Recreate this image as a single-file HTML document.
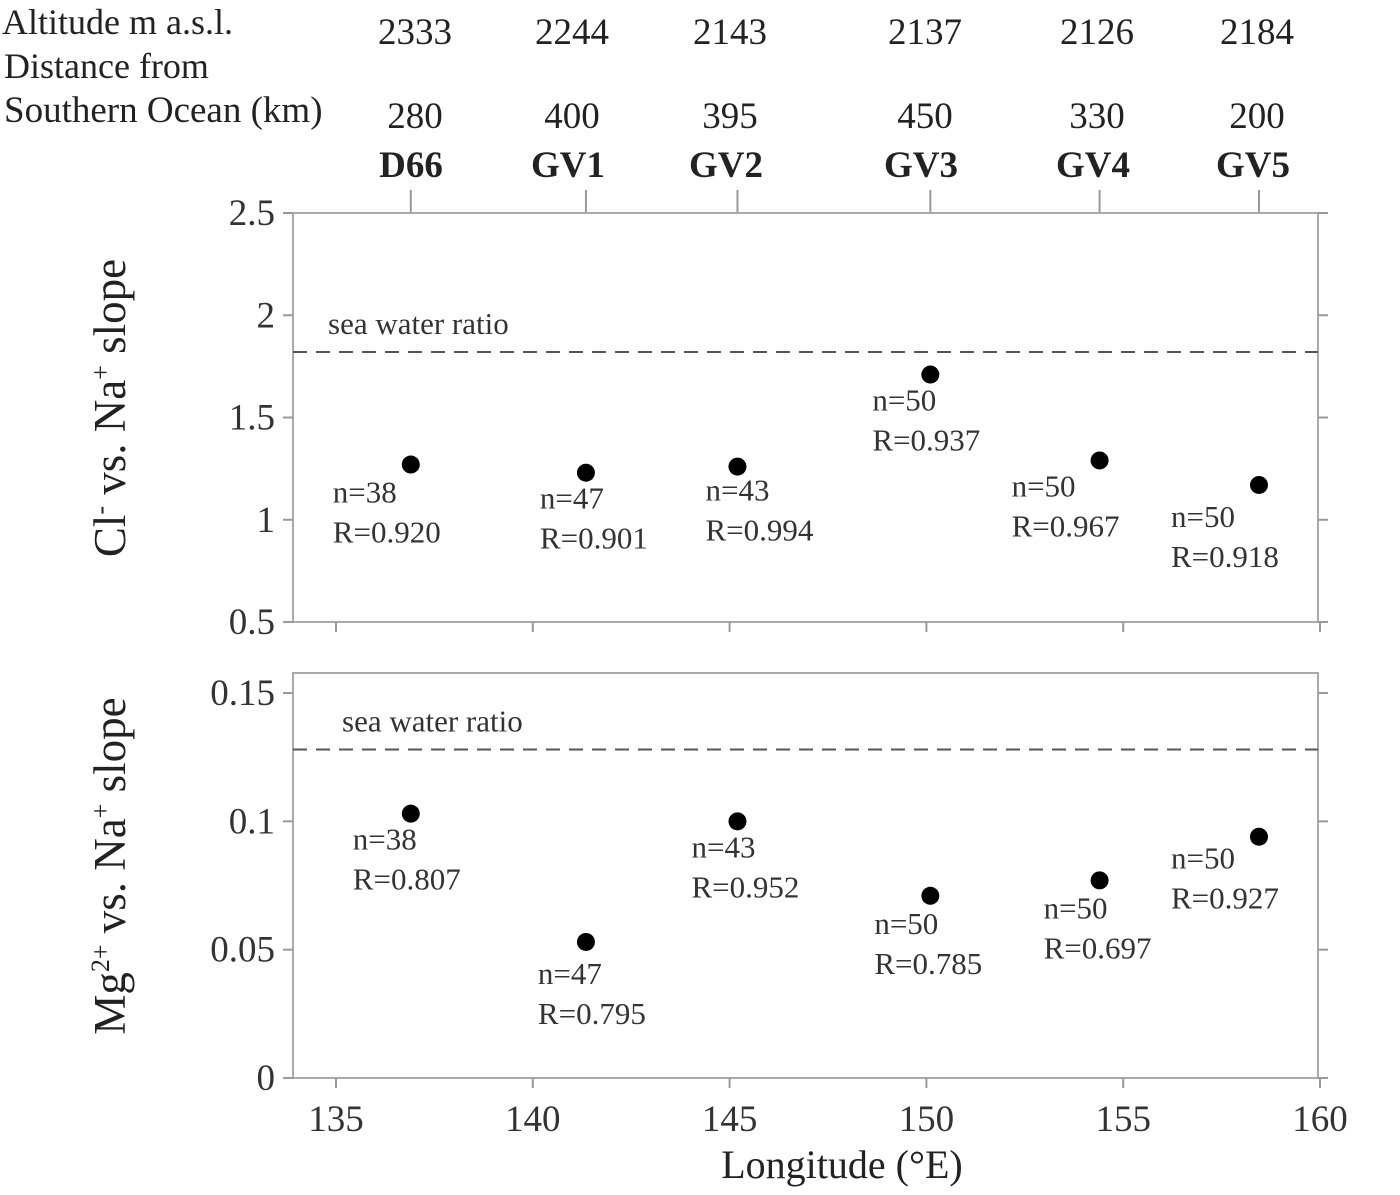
<!DOCTYPE html>
<html><head><meta charset="utf-8"><style>
html,body{margin:0;padding:0;background:#fff}
svg{display:block;font-family:"Liberation Serif",serif}
</style></head><body>
<svg id="chart" width="1400" height="1195" viewBox="0 0 1400 1195" xmlns="http://www.w3.org/2000/svg">
<g id="header" font-size="37" fill="#222">
<text x="2" y="34" font-size="36">Altitude m a.s.l.</text>
<text x="4" y="78" font-size="36">Distance from</text>
<text x="4" y="122" font-size="37">Southern Ocean (km)</text>
</g>
<g id="top"></g>
<g id="bot"></g>
<text x="842" y="1178" font-size="40" text-anchor="middle" fill="#222">Longitude (°E)</text>
<text transform="translate(125,408) rotate(-90)" font-size="45" text-anchor="middle" fill="#222">Cl<tspan dy="-16" font-size="26">-</tspan><tspan dy="16"> vs. Na</tspan><tspan dy="-16" font-size="26">+</tspan><tspan dy="16"> slope</tspan></text>
<text transform="translate(125,866) rotate(-90)" font-size="45" text-anchor="middle" fill="#222">Mg<tspan dy="-16" font-size="26">2+</tspan><tspan dy="16"> vs. Na</tspan><tspan dy="-16" font-size="26">+</tspan><tspan dy="16"> slope</tspan></text>
</svg>
<script>
const stations=["D66","GV1","GV2","GV3","GV4","GV5"];
const altitudes=["2333","2244","2143","2137","2126","2184"];
const distances=["280","400","395","450","330","200"];
const longitudes=[136.9,141.35,145.2,150.1,154.4,158.45];
const clSlope=[1.27,1.23,1.26,1.71,1.29,1.17];
const clN=["n=38","n=47","n=43","n=50","n=50","n=50"];
const clR=["R=0.920","R=0.901","R=0.994","R=0.937","R=0.967","R=0.918"];
const clSea=1.82;
const mgSlope=[0.103,0.053,0.100,0.071,0.077,0.094];
const mgN=["n=38","n=47","n=43","n=50","n=50","n=50"];
const mgR=["R=0.807","R=0.795","R=0.952","R=0.785","R=0.697","R=0.927"];
const mgSea=0.128;
const xTicks=[135,140,145,150,155,160];
const clTicks=[0.5,1,1.5,2,2.5];
const mgTicks=[0,0.05,0.1,0.15];
const clTickLabels=["0.5","1","1.5","2","2.5"];
const mgTickLabels=["0","0.05","0.1","0.15"];

const NS="http://www.w3.org/2000/svg";
const X=v=>336+(v-135)*(984/25);
const L=293,R=1318;
function el(p,t,a){const e=document.createElementNS(NS,t);for(const k in a)e.setAttribute(k,a[k]);p.appendChild(e);return e;}
const H=document.getElementById('header');
const colX=[415,572,730,925,1097,1257];
stations.forEach((s,i)=>{
 const sx=X(longitudes[i]);
 const a=el(H,'text',{x:colX[i],y:44,'text-anchor':'middle'});a.textContent=altitudes[i];
 
 
 const d=el(H,'text',{x:colX[i],y:128,'text-anchor':'middle'});d.textContent=distances[i];
 
 
 const n=el(H,'text',{x:colX[i]-4,y:177,'text-anchor':'middle','font-weight':'bold'});n.textContent=s;
 
 
 const t=el(H,'line',{x1:sx,x2:sx,y1:190,y2:213,stroke:'#999','stroke-width':2});
 
 
});
function panel(g,top,bot,vmin,vmax,ticks,labels,vals,ns,rs,sea,seaLblX,offs,bottomLabels){
 const Y=v=>bot-(v-vmin)/(vmax-vmin)*(bot-top);
 const f=el(g,'rect',{x:L,y:top,width:R-L,height:bot-top,fill:'none',stroke:'#aaa','stroke-width':2});
 
 
 ticks.forEach((t,i)=>{
  el(g,'line',{x1:L-10,x2:L,y1:Y(t),y2:Y(t),stroke:'#999','stroke-width':2});
  el(g,'line',{x1:R,x2:R+10,y1:Y(t),y2:Y(t),stroke:'#999','stroke-width':2});
  const tl=el(g,'text',{x:L-18,y:Y(t)+12,'text-anchor':'end','font-size':37,fill:'#333'});tl.textContent=labels[i];
  
  
 });
 xTicks.forEach(t=>{
  el(g,'line',{x1:X(t),x2:X(t),y1:bot,y2:bot+10,stroke:'#999','stroke-width':2});
  if(bottomLabels){const tl=el(g,'text',{x:X(t),y:bot+53,'text-anchor':'middle','font-size':37,fill:'#333'});tl.textContent=t;
  
  }
 });
 const sl=el(g,'line',{x1:L,x2:R,y1:Y(sea),y2:Y(sea),stroke:'#555','stroke-width':2,'stroke-dasharray':'14 9'});
 
 
 const st=el(g,'text',{x:seaLblX,y:Y(sea)-18,'font-size':31,fill:'#333'});st.textContent='sea water ratio';
 
 
 vals.forEach((v,i)=>{
  const cx=X(longitudes[i]),cy=Y(v);
  const c=el(g,'circle',{cx:cx,cy:cy,r:9,fill:'#000'});
  
  
  const t1=el(g,'text',{x:cx+offs[i][0],y:cy+offs[i][1],'font-size':31,fill:'#333'});t1.textContent=ns[i];
  
  
  const t2=el(g,'text',{x:cx+offs[i][0],y:cy+offs[i][1]+40,'font-size':31,fill:'#333'});t2.textContent=rs[i];
  
  
 });
}
panel(document.getElementById('top'),213,622,0.5,2.5,clTicks,clTickLabels,clSlope,clN,clR,clSea,328,
 [[-78,38],[-46,36],[-32,34],[-58,36],[-88,36],[-88,42]],false);
panel(document.getElementById('bot'),673,1078,0,0.1578,mgTicks,mgTickLabels,mgSlope,mgN,mgR,mgSea,342,
 [[-58,36],[-48,42],[-46,36],[-56,38],[-56,38],[-88,32]],true);
</script>
</body></html>
